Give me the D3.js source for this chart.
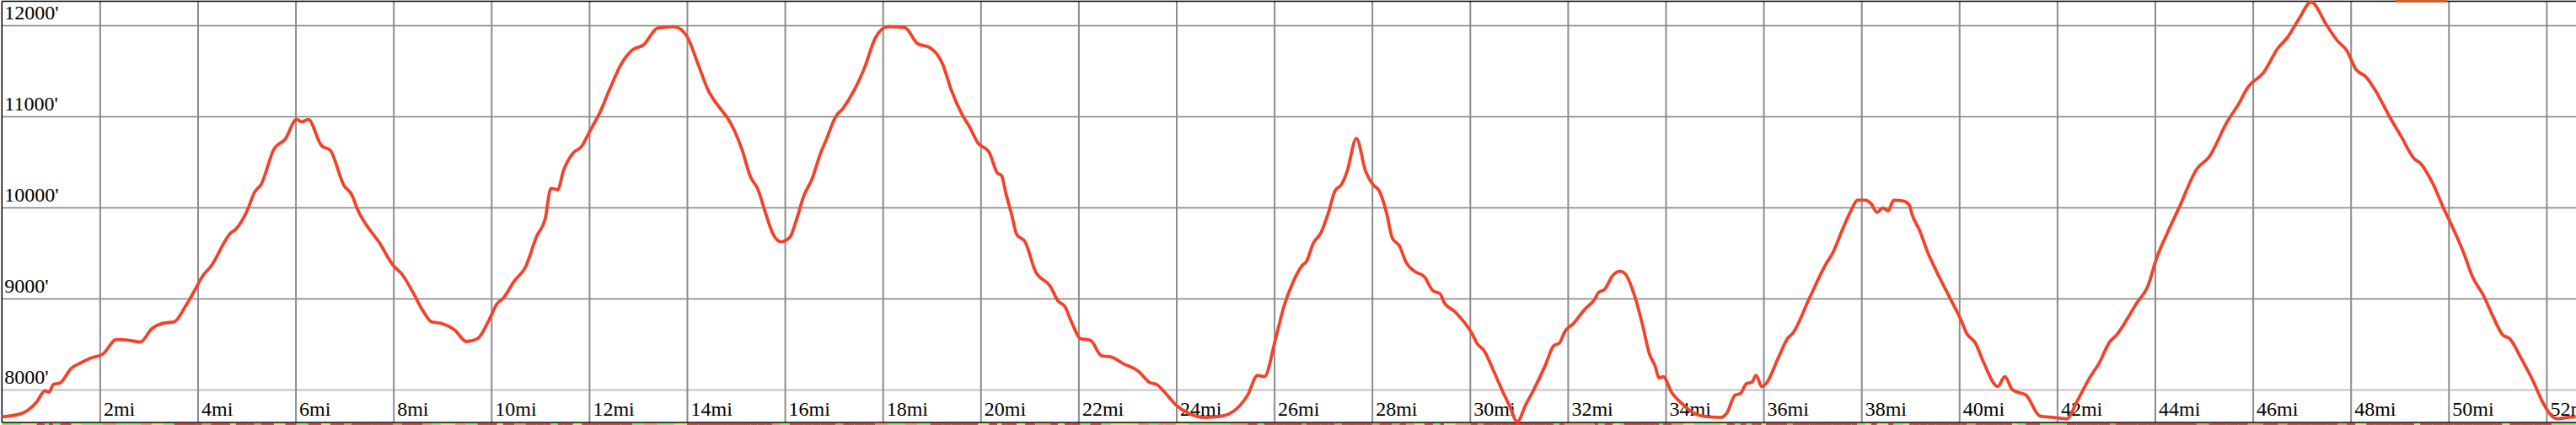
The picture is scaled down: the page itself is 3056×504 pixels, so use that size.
<!DOCTYPE html>
<html>
<head>
<meta charset="utf-8">
<script src="https://cdn.jsdelivr.net/npm/d3@7"></script>
<style>
  html, body { margin: 0; padding: 0; background: #fff; }
  svg { display: block; }
  text { font-family: "Liberation Serif", "Times New Roman", serif; }
</style>
</head>
<body>
<svg id="chart" width="3056" height="504"></svg>
<script>
// ---- data (distance in miles, elevation in feet) ----
const miles = [
  0, 0.39, 0.71, 0.88, 0.96, 1.05, 1.19, 1.42, 1.62, 1.80, 2.06, 2.34, 2.57, 2.83, 3.06, 3.29, 3.52, 3.75, 3.98, 4.09,
  4.27, 4.67, 4.78, 5.01, 5.16, 5.30, 5.56, 5.79, 6.02, 6.13, 6.26, 6.53, 6.71, 6.99, 7.14, 7.28, 7.57, 7.68, 8.00, 8.17,
  8.40, 8.60, 8.78, 8.97, 9.26, 9.49, 9.72, 9.95, 10.12, 10.24, 10.47, 10.70, 10.93, 11.10, 11.22, 11.36, 11.47, 11.67, 11.85, 12.02,
  12.22, 12.45, 12.65, 12.88, 13.11, 13.40, 13.74, 14.00, 14.23, 14.43, 14.72, 14.83, 15.12, 15.30, 15.44, 15.61, 15.75, 15.92, 16.10, 16.24,
  16.38, 16.56, 16.73, 16.84, 17.04, 17.19, 17.42, 17.62, 17.85, 18.10, 18.45, 18.71, 18.97, 19.23, 19.40, 19.63, 19.77, 19.95, 20.17, 20.34,
  20.43, 20.52, 20.63, 20.74, 20.91, 21.12, 21.43, 21.58, 21.72, 21.87, 22.04, 22.24, 22.47, 22.67, 22.93, 23.22, 23.45, 23.62, 23.76, 23.99,
  24.25, 24.59, 24.88, 25.11, 25.46, 25.66, 25.80, 26.03, 26.20, 26.37, 26.57, 26.66, 26.80, 26.95, 27.12, 27.24, 27.38, 27.49, 27.68, 27.87,
  28.01, 28.15, 28.30, 28.41, 28.56, 28.70, 28.87, 29.07, 29.25, 29.39, 29.47, 29.70, 30.02, 30.16, 30.28, 30.51, 30.65, 30.80, 30.97, 31.14,
  31.31, 31.54, 31.71, 31.83, 31.94, 32.12, 32.35, 32.55, 32.63, 32.75, 32.92, 33.06, 33.15, 33.38, 33.52, 33.67, 33.78, 33.87, 33.95, 34.12,
  34.36, 34.58, 34.76, 35.13, 35.25, 35.42, 35.53, 35.65, 35.76, 35.85, 35.96, 36.05, 36.31, 36.49, 36.60, 36.94, 37.29, 37.40, 37.63, 37.80,
  37.92, 38.09, 38.20, 38.32, 38.44, 38.55, 38.66, 38.86, 38.98, 39.04, 39.19, 39.35, 39.52, 39.81, 40.04, 40.15, 40.33, 40.50, 40.79, 40.93,
  41.08, 41.19, 41.36, 41.65, 41.94, 42.20, 42.40, 42.68, 42.85, 43.08, 43.20, 43.64, 43.85, 44.03, 44.25, 44.49, 44.86, 45.10, 45.47, 45.71,
  45.90, 46.21, 46.52, 46.70, 46.95, 47.19, 47.51, 47.73, 47.92, 48.10, 48.32, 48.50, 48.81, 49.03, 49.30, 49.42, 49.67, 49.91, 50.10, 50.31,
  50.49, 50.71, 50.92, 51.10, 51.25, 51.50, 51.74, 51.92, 52.11, 52.23, 52.41, 52.60
];
const elevation = [
  7701, 7735, 7864, 7988, 7972, 8056, 8074, 8235, 8296, 8343, 8389, 8549, 8543, 8522, 8667, 8728, 8744, 8914, 9130, 9238,
  9352, 9716, 9762, 9963, 10164, 10256, 10642, 10750, 10966, 10941, 10966, 10679, 10627, 10241, 10148, 9963, 9716, 9639, 9361, 9269,
  9068, 8867, 8744, 8728, 8651, 8528, 8559, 8759, 8944, 9000, 9191, 9346, 9685, 9870, 10210, 10194, 10395, 10596, 10673, 10843,
  11043, 11336, 11568, 11728, 11784, 11969, 11985, 11877, 11568, 11290, 11059, 10981, 10642, 10333, 10210, 9932, 9716, 9623, 9670, 9870,
  10117, 10318, 10596, 10735, 10997, 11090, 11290, 11522, 11861, 11985, 11975, 11799, 11753, 11568, 11290, 11012, 10889, 10704, 10611, 10380,
  10349, 10148, 9932, 9701, 9623, 9299, 9130, 8975, 8914, 8728, 8559, 8543, 8373, 8358, 8281, 8204, 8080, 8049, 7972, 7833,
  7741, 7694, 7704, 7741, 7941, 8157, 8142, 8560, 8914, 9160, 9361, 9407, 9608, 9716, 9963, 10179, 10256, 10395, 10759, 10395,
  10256, 10179, 9932, 9670, 9577, 9392, 9299, 9238, 9083, 9052, 8960, 8852, 8636, 8497, 8435, 8173, 8003, 7833, 7648, 7833,
  8003, 8265, 8481, 8512, 8636, 8728, 8883, 8991, 9068, 9099, 9253, 9299, 9284, 9006, 8728, 8389, 8265, 8127, 8142, 7972,
  7833, 7741, 7710, 7694, 7741, 7941, 7957, 8065, 8080, 8157, 8034, 8065, 8358, 8559, 8620, 9006, 9392, 9485, 9778, 9978,
  10080, 10080, 10040, 9948, 9994, 9963, 10080, 10071, 10025, 9917, 9747, 9515, 9315, 9006, 8759, 8620, 8512, 8296, 8034, 8142,
  8003, 7972, 7941, 7710, 7694, 7679, 7864, 8142, 8281, 8528, 8590, 8960, 9130, 9438, 9716, 9994, 10426, 10549, 10935, 11136,
  11321, 11475, 11753, 11861, 12077, 12255, 12000, 11830, 11722, 11522, 11429, 11290, 10981, 10781, 10534, 10488, 10272, 9978, 9762, 9500,
  9238, 9037, 8790, 8605, 8559, 8327, 8080, 7864, 7710, 7679, 7694, 7700
];
const xTicks = [2, 4, 6, 8, 10, 12, 14, 16, 18, 20, 22, 24, 26, 28, 30, 32, 34, 36, 38, 40, 42, 44, 46, 48, 50, 52];
const yTicks = [8000, 9000, 10000, 11000, 12000];
const xDomain = [0, 52.6];
const yDomain = [8000, 12000];

// ---- layout ----
const W = 3056, H = 504;
const plotLeft = 2.3, plotTop = 1.5, plotBottom = 501;
const svg = d3.select("#chart");

const x = d3.scaleLinear().domain(xDomain).range([plotLeft, plotLeft + 58.05 * xDomain[1]]);
const y = d3.scaleLinear().domain(yDomain).range([462, 30]);

// horizontal grid + labels
const yAxis = d3.axisLeft(y)
  .tickValues(yTicks)
  .tickSize(-(W - plotLeft))
  .tickFormat(d => d + "'");
const gy = svg.append("g").attr("transform", `translate(${plotLeft},0)`).call(yAxis);
gy.select(".domain").remove();
gy.selectAll(".tick line")
  .attr("stroke", d => d === 8000 ? "#c2c2c2" : "#7f7f7f")
  .attr("stroke-width", d => d === 8000 ? 2 : 1.4);
gy.selectAll(".tick text")
  .attr("x", 3).attr("dy", null).attr("y", -7.5)
  .attr("text-anchor", "start")
  .attr("font-size", 24).attr("fill", "#000")
  .style("font-family", "'Liberation Serif', 'Times New Roman', serif");

// vertical grid + labels
const xAxis = d3.axisBottom(x)
  .tickValues(xTicks)
  .tickSize(-(plotBottom - plotTop))
  .tickFormat(d => d + "mi");
const gx = svg.append("g").attr("transform", `translate(0,${plotBottom})`).call(xAxis);
gx.select(".domain").remove();
gx.selectAll(".tick line").attr("stroke", "#8c8c8c").attr("stroke-width", 2);
gx.selectAll(".tick text")
  .attr("x", 4).attr("dy", null).attr("y", -8)
  .attr("text-anchor", "start")
  .attr("font-size", 24).attr("fill", "#000")
  .style("font-family", "'Liberation Serif', 'Times New Roman', serif");

// frame (top, left, bottom)
svg.append("line").attr("x1", plotLeft).attr("x2", W).attr("y1", plotTop).attr("y2", plotTop)
  .attr("stroke", "#000").attr("stroke-width", 1.5);
svg.append("line").attr("x1", plotLeft).attr("x2", plotLeft).attr("y1", plotTop).attr("y2", plotBottom)
  .attr("stroke", "#000").attr("stroke-width", 1.5);
svg.append("line").attr("x1", plotLeft).attr("x2", W).attr("y1", plotBottom).attr("y2", plotBottom)
  .attr("stroke", "#000").attr("stroke-width", 1.5);

// grade strip under the chart
const data = miles.map((m, i) => ({ m, e: elevation[i] }));
const gradeColor = d3.scaleThreshold()
  .domain([0.05, 0.09, 0.13])
  .range(["#8ee85a", "#e8e84a", "#f49a3a", "#e6402a"]);
const segs = data.slice(1).map((d, i) => {
  const p = data[i];
  const g = Math.abs(d.e - p.e) / ((d.m - p.m) * 5280);
  return { a: p.m, b: d.m, g };
});
svg.append("g").selectAll("rect").data(segs).join("rect")
  .attr("x", d => x(d.a)).attr("width", d => Math.max(0.5, x(d.b) - x(d.a)))
  .attr("y", plotBottom + 1).attr("height", 3)
  .attr("fill", d => gradeColor(d.g));

// partial legend chip at the top edge
svg.append("rect").attr("x", 2841).attr("y", -5).attr("width", 62).attr("height", 8).attr("rx", 3)
  .attr("fill", "#c8642c");

// elevation line
const line = d3.line().x(d => x(d.m)).y(d => y(d.e)).curve(d3.curveMonotoneX);
svg.append("path").datum(data)
  .attr("d", line)
  .attr("fill", "none")
  .attr("stroke", "#f2432a")
  .attr("stroke-width", 3.8)
  .attr("stroke-linejoin", "round");
</script>
</body>
</html>
